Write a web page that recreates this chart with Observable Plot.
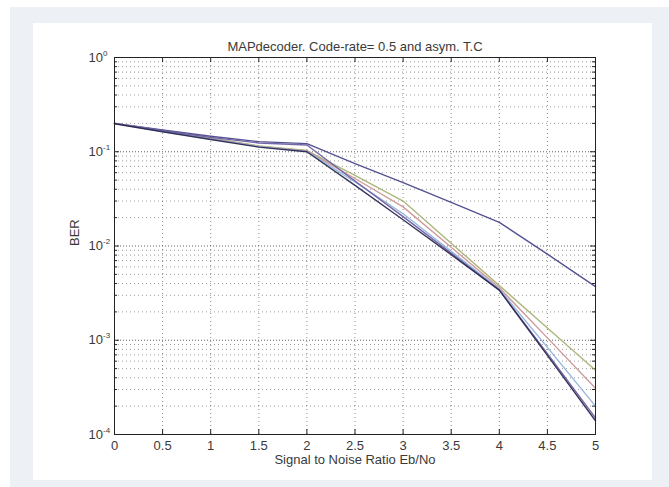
<!DOCTYPE html>
<html>
<head>
<meta charset="utf-8">
<script src="https://cdn.jsdelivr.net/npm/d3@7"></script>
<script src="https://cdn.jsdelivr.net/npm/@observablehq/plot@0.6"></script>
<style>
  html, body { margin: 0; padding: 0; background: #ffffff; width: 669px; height: 487px; overflow: hidden; }
  #bg { position: absolute; left: 10px; top: 7px; width: 659px; height: 480px; background: #edf1f6; }
  #panel { position: absolute; left: 33px; top: 23px; width: 619px; height: 457px; background: #ffffff; }
  #chart { position: absolute; left: 0; top: 0; }
</style>
</head>
<body>
<div id="bg"></div>
<div id="panel"></div>
<div id="chart"></div>
<script>
// ---- data ----
const ebno = [0, 0.5, 1, 1.5, 2, 2.5, 3, 3.5, 4, 4.5, 5];
const berTop    = [0.200, 0.170, 0.146, 0.128, 0.122, 0.075, 0.047, 0.029, 0.0178, 0.0082, 0.0037];
const berOlive  = [0.200, 0.165, 0.140, 0.115, 0.103, 0.056, 0.030, 0.0107, 0.0038, 0.00135, 0.00048];
const berRed    = [0.200, 0.165, 0.138, 0.114, 0.102, 0.052, 0.026, 0.0097, 0.0036, 0.00106, 0.00031];
const berCyan   = [0.200, 0.164, 0.137, 0.113, 0.101, 0.048, 0.022, 0.0088, 0.0035, 0.00084, 0.00020];
const berPurple = [0.200, 0.168, 0.142, 0.124, 0.118, 0.049, 0.0205, 0.0084, 0.0034, 0.00072, 0.00015];
const berDark   = [0.198, 0.163, 0.135, 0.112, 0.100, 0.044, 0.019, 0.0081, 0.0034, 0.00069, 0.00014];

const seriesNames  = ["top", "olive", "red", "cyan", "purple", "dark"];
const seriesValues = [berTop, berOlive, berRed, berCyan, berPurple, berDark];
const seriesColors = ["#4a4a8e", "#a9b274", "#cc9696", "#92b4dc", "#6e5ea2", "#2a2a52"];

const xTicks = [0, 0.5, 1, 1.5, 2, 2.5, 3, 3.5, 4, 4.5, 5];
const xTickLabels = ["0", "0.5", "1", "1.5", "2", "2.5", "3", "3.5", "4", "4.5", "5"];
const yMajor = [1e-4, 1e-3, 1e-2, 1e-1, 1];
const yMajorBase = "10";
const yMajorExp = ["-4", "-3", "-2", "-1", "0"];
const yMinor = [];
for (let e = -4; e < 0; e++) for (let m = 2; m <= 9; m++) yMinor.push(m * Math.pow(10, e));

const titleText = "MAPdecoder. Code-rate= 0.5 and asym. T.C";
const xLabelText = "Signal to Noise Ratio Eb/No";
const yLabelText = "BER";

// ---- build rows ----
const rows = [];
seriesNames.forEach((name, i) => {
  ebno.forEach((x, j) => rows.push({series: name, x, y: seriesValues[i][j]}));
});

const W = 669, H = 487;
const mL = 114, mR = 74, mT = 57, mB = 53;
const fw = W - mL - mR, fh = H - mT - mB;
const tick = 5;

const chart = Plot.plot({
  width: W,
  height: H,
  marginLeft: mL,
  marginRight: mR,
  marginTop: mT,
  marginBottom: mB,
  style: {background: "transparent", fontFamily: "'Liberation Sans', Arial, sans-serif", fontSize: "13px", color: "#3a3a3a"},
  x: {type: "linear", domain: [0, 5]},
  y: {type: "log", domain: [1e-4, 1]},
  color: {domain: seriesNames, range: seriesColors},
  marks: [
    // grid
    Plot.gridX(xTicks, {stroke: "#666", strokeOpacity: 0.75, strokeDasharray: "1,3"}),
    Plot.gridY(yMinor, {stroke: "#666", strokeOpacity: 0.65, strokeDasharray: "1,3"}),
    Plot.gridY(yMajor, {stroke: "#444", strokeOpacity: 0.85, strokeDasharray: "1,2"}),
    // inner ticks
    Plot.tickX(xTicks, {x: d => d, stroke: "#222", insetTop: fh - tick}),
    Plot.tickX(xTicks, {x: d => d, stroke: "#222", insetBottom: fh - tick}),
    Plot.tickY(yMajor, {y: d => d, stroke: "#222", insetRight: fw - tick}),
    Plot.tickY(yMajor, {y: d => d, stroke: "#222", insetLeft: fw - tick}),
    Plot.tickY(yMinor, {y: d => d, stroke: "#222", insetRight: fw - 3}),
    Plot.tickY(yMinor, {y: d => d, stroke: "#222", insetLeft: fw - 3}),
    // curves
    Plot.line(rows, {x: "x", y: "y", z: "series", stroke: "series", strokeWidth: 1.4, strokeOpacity: 0.95}),
    Plot.frame({stroke: "#222", strokeWidth: 1}),
    // axes
    Plot.axisX({ticks: xTicks, tickSize: 0, tickPadding: 6, label: null,
      tickFormat: d => xTickLabels[xTicks.indexOf(d)] ?? String(d)}),
    Plot.axisY({ticks: yMajor, tickSize: 0, tickPadding: 9, label: null,
      tickFormat: () => yMajorBase}),
    // titles
    Plot.text([titleText], {frameAnchor: "top", dy: -16, fontSize: 13, fill: "#3a3a3a"}),
    Plot.text([xLabelText], {frameAnchor: "bottom", dy: 29, fontSize: 13, fill: "#3a3a3a"}),
    Plot.text([yLabelText], {frameAnchor: "left", dx: -40, rotate: -90, fontSize: 13, fill: "#3a3a3a"})
  ]
});

// add superscript exponents to the y tick labels
const yLabelGroup = chart.querySelector('g[aria-label="y-axis tick label"]');
if (yLabelGroup) {
  const texts = Array.from(yLabelGroup.querySelectorAll("text"));
  texts.forEach((t, i) => {
    const ts = document.createElementNS("http://www.w3.org/2000/svg", "tspan");
    ts.setAttribute("dy", "-6");
    ts.setAttribute("font-size", "8");
    ts.textContent = yMajorExp[i];
    t.setAttribute("text-anchor", "start");
    t.setAttribute("dx", "-17");
    t.appendChild(ts);
  });
}

document.getElementById("chart").appendChild(chart);
</script>
</body>
</html>
